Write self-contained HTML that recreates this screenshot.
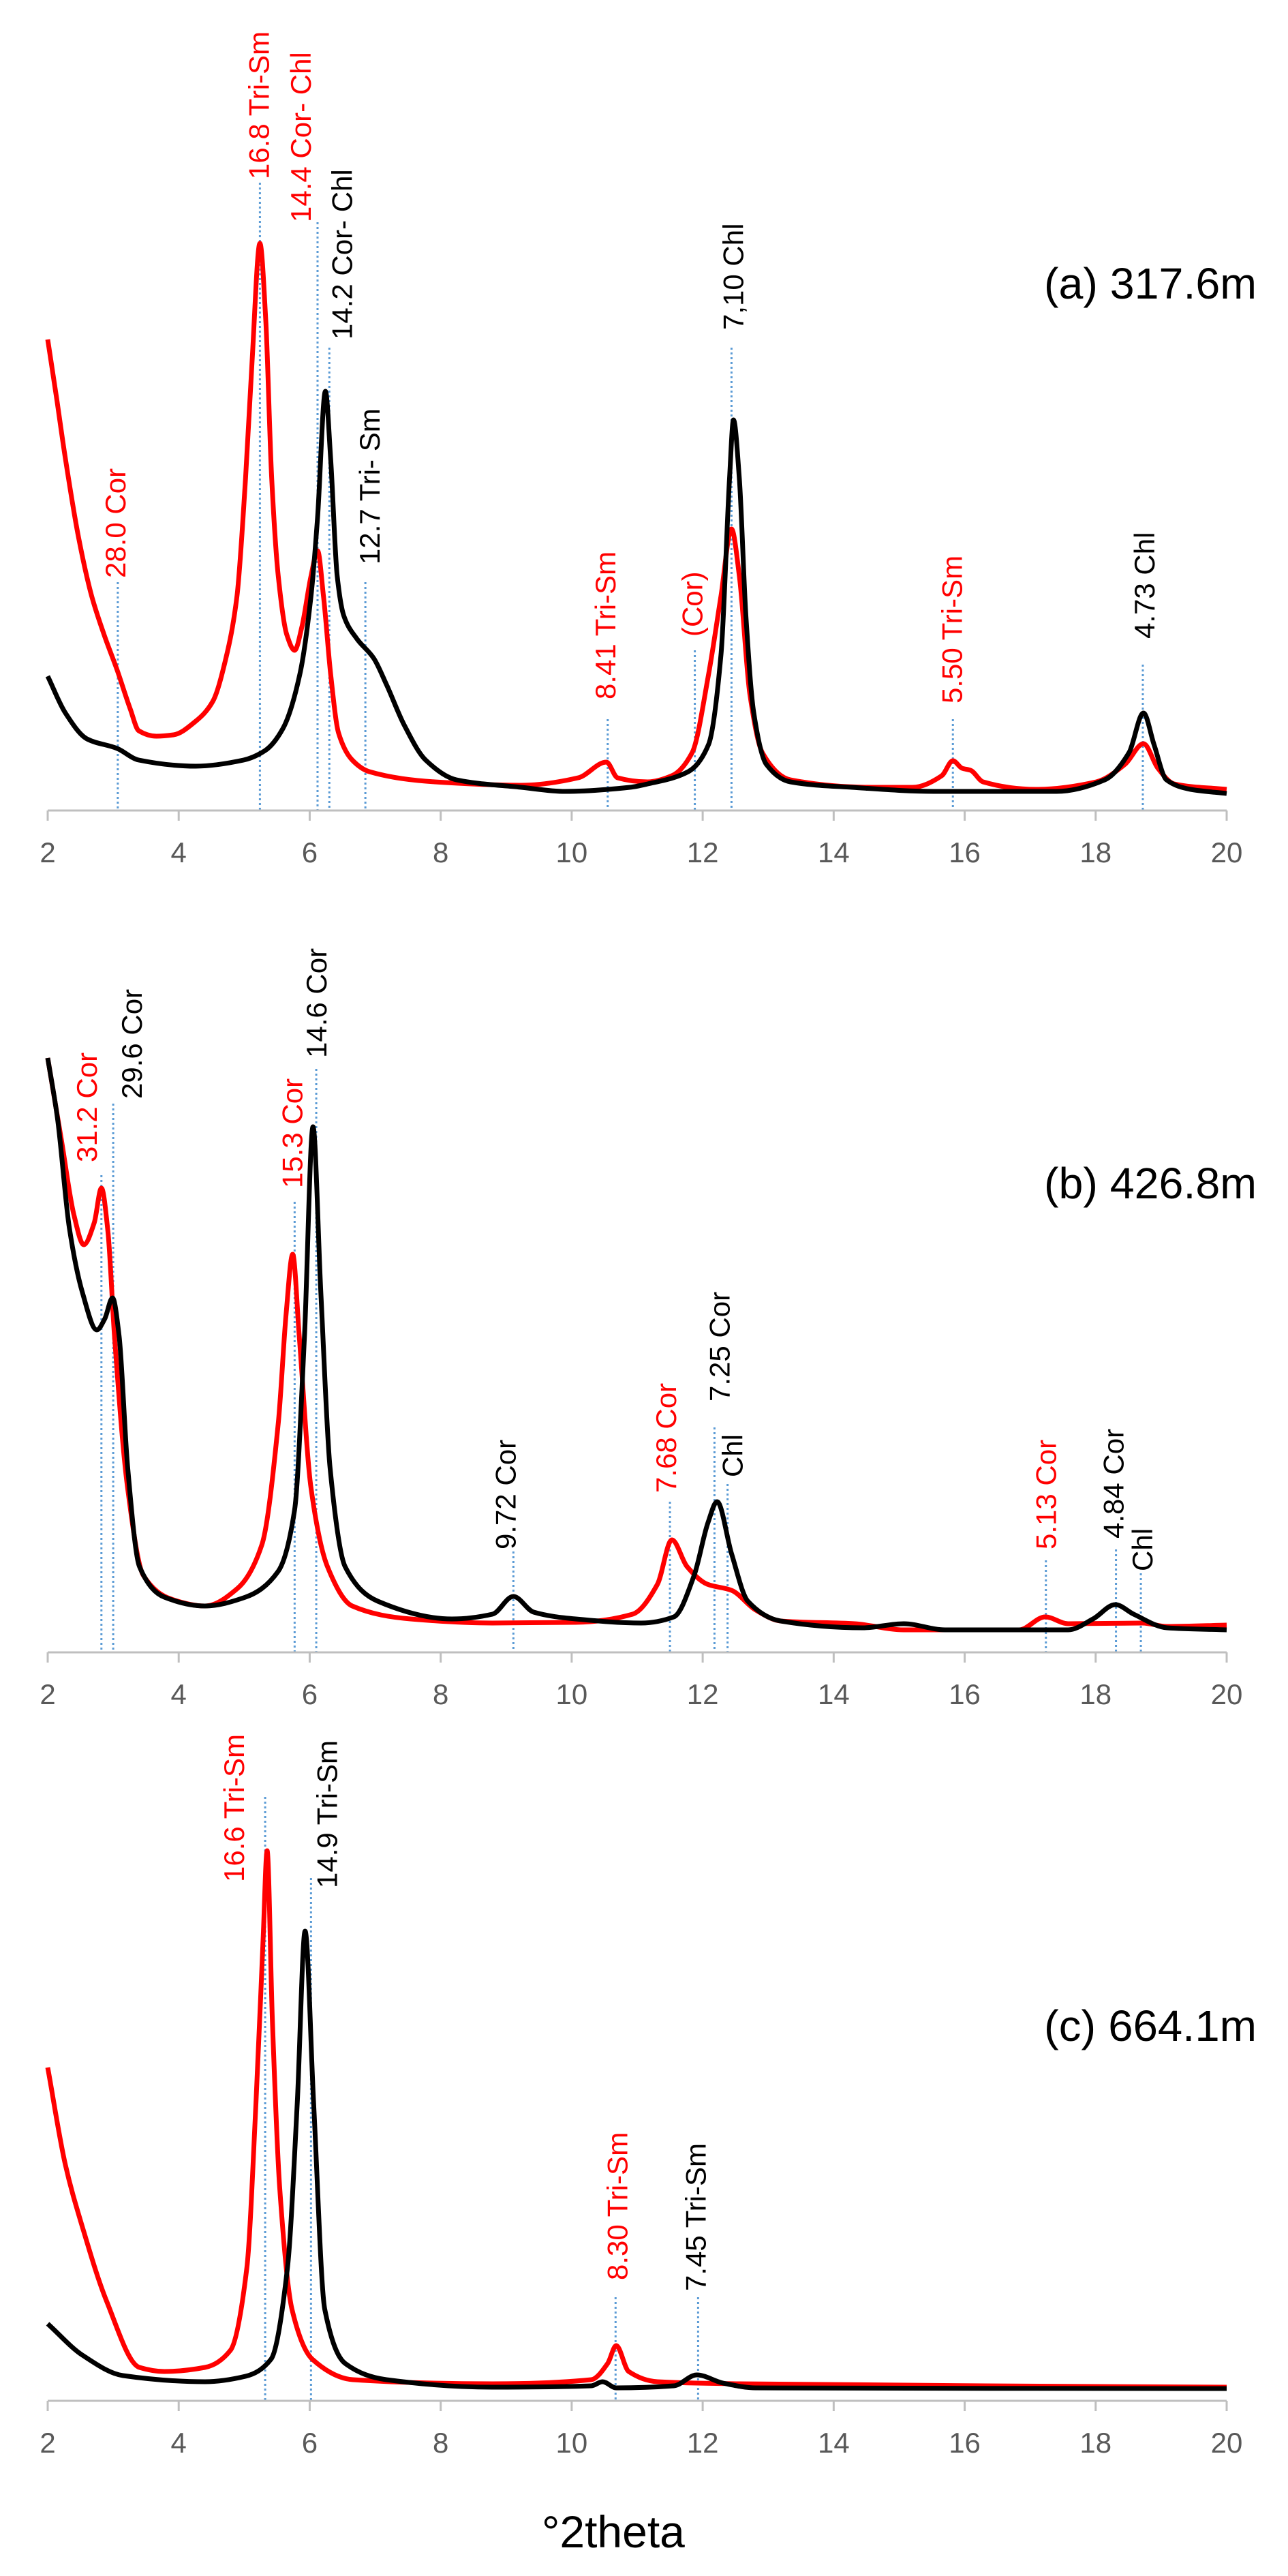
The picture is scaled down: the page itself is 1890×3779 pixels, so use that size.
<!DOCTYPE html>
<html><head><meta charset="utf-8"><title>XRD patterns</title>
<style>
html,body{margin:0;padding:0;background:#fff;}
svg{display:block;}
text{font-family:"Liberation Sans",sans-serif;}
</style></head>
<body>
<svg id="chart" width="1890" height="3779" viewBox="0 0 1890 3779" xmlns="http://www.w3.org/2000/svg">
<rect width="1890" height="3779" fill="#fff"/>
<text x="795" y="3737" font-size="66" fill="#000">°2theta</text>
</svg>
<script>
// ---------- data ----------
const xTicks = [2,4,6,8,10,12,14,16,18,20];
const panelTitles = ["(a) 317.6m","(b) 426.8m","(c) 664.1m"];

// Panel (a) 317.6m
const aRedTheta = [2.0,2.14,2.27,2.47,2.67,2.86,3.06,3.26,3.39,3.66,3.92,4.26,4.52,4.72,4.89,5.02,5.12,5.24,5.33,5.42,5.52,5.65,5.77,5.88,6.02,6.12,6.21,6.32,6.44,6.65,6.91,7.91,9.23,10.1,10.53,10.7,11.16,11.53,11.84,12.09,12.28,12.44,12.56,12.72,12.91,13.34,14.59,15.2,15.65,15.82,15.96,16.09,16.28,17.09,18.01,18.45,18.73,18.95,19.2,20.0];
const aRedInt = [691,602,516,401,315,258,206,149,117,109,111,131,160,223,315,487,659,832,717,487,344,258,235,269,344,381,315,200,114,74,57,42,37,48,71,48,42,51,85,200,315,413,344,171,85,45,34,34,51,73,62,59,42,31,42,68,98,62,39,31];
const aBlackTheta = [2.0,2.27,2.6,3.06,3.39,4.26,4.99,5.32,5.59,5.85,6.02,6.12,6.24,6.32,6.42,6.52,6.72,6.98,7.18,7.44,7.77,8.24,9.23,9.9,10.89,11.16,11.78,12.09,12.28,12.41,12.47,12.56,12.66,12.78,12.97,13.34,14.28,15.53,17.4,18.14,18.51,18.73,18.89,19.08,19.45,20.0];
const aBlackInt = [197,143,105,91,74,65,74,88,120,200,315,430,615,516,344,286,252,223,183,126,74,45,34,28,34,39,57,97,229,487,573,487,286,143,68,42,34,28,28,45,85,143,97,45,31,25];

// Panel (b) 426.8m
const bRedTheta = [2.0,2.21,2.4,2.55,2.71,2.82,2.92,3.02,3.22,3.46,3.89,4.4,4.9,5.27,5.52,5.64,5.74,5.84,6.02,6.27,6.65,7.54,8.79,10.06,10.93,11.31,11.53,11.76,12.07,12.44,12.81,13.19,14.32,15.07,16.83,17.23,17.58,18.71,19.09,20.0];
const bRedInt = [872,751,642,598,630,681,617,464,241,113,78,68,94,158,336,496,584,464,241,126,68,49,43,44,56,100,165,126,100,91,62,46,42,33,33,52,42,43,38,40];
const bBlackTheta = [2.0,2.15,2.33,2.53,2.75,2.87,2.99,3.09,3.22,3.4,3.78,4.4,5.02,5.52,5.77,5.92,6.05,6.17,6.31,6.54,7.04,8.17,8.79,9.11,9.42,10.06,11.06,11.56,11.87,12.08,12.22,12.44,12.69,13.19,14.44,15.07,15.7,17.58,17.96,18.3,18.58,19.09,20.0];
const bBlackInt = [872,783,623,528,473,489,520,464,272,126,81,68,81,119,209,464,771,528,272,126,75,49,56,82,59,49,43,52,113,190,221,145,75,46,36,42,33,33,49,70,56,36,33];

// Panel (c) 664.1m
const cRedTheta = [2.0,2.27,2.53,2.9,3.4,3.78,4.4,4.79,5.04,5.18,5.29,5.35,5.43,5.54,5.73,6.04,6.66,8.79,10.3,10.55,10.68,10.87,11.31,12.56,16.32,20.0];
const cRedInt = [489,346,255,146,49,43,49,74,195,437,680,807,558,316,134,61,31,25,31,55,81,43,28,25,22,20];
const cBlackTheta = [2.0,2.53,3.15,4.4,5.02,5.41,5.66,5.81,5.93,6.06,6.23,6.54,7.17,8.79,10.3,10.47,10.68,11.56,11.91,12.31,12.81,20.0];
const cBlackInt = [113,67,37,28,36,61,195,437,689,437,134,55,31,20,22,28,19,22,38,26,19,18];

// Peak annotations: d-spacing labels
const aLabelText = ["28.0 Cor","16.8  Tri-Sm","14.4 Cor- Chl","14.2 Cor- Chl","12.7 Tri- Sm","8.41 Tri-Sm","(Cor)","7,10 Chl","5.50 Tri-Sm","4.73 Chl"];
const aLabelTheta = [3.07,5.24,6.12,6.3,6.85,10.55,11.88,12.44,15.82,18.72];
const aLabelRed = [1,1,1,0,0,1,1,0,1,0];
const bLabelText = ["31.2 Cor","29.6 Cor","15.3 Cor","14.6 Cor","9.72 Cor","7.68 Cor","7.25 Cor","Chl","5.13 Cor","4.84 Cor","Chl"];
const bLabelTheta = [2.82,3.0,5.77,6.1,9.11,11.5,12.18,12.38,17.24,18.31,18.69];
const bLabelRed = [1,0,1,0,0,1,0,0,1,0,0];
const cLabelText = ["16.6 Tri-Sm","14.9 Tri-Sm","8.30  Tri-Sm","7.45 Tri-Sm"];
const cLabelTheta = [5.32,6.02,10.67,11.93];
const cLabelRed = [1,0,1,0];

// ---------- layout (not data) ----------
const NS = "http://www.w3.org/2000/svg";
const svg = document.getElementById("chart");
const X0 = 70, X1 = 1800, TMIN = 2, TMAX = 20;
function xScale(t){ return X0 + (t - TMIN) * (X1 - X0) / (TMAX - TMIN); }

// monotone cubic (Fritsch-Carlson) path through screen points
function monotonePath(xs, ys){
  const n = xs.length;
  if (n < 2) return "";
  const dx = [], m = [], t = new Array(n);
  for (let i=0;i<n-1;i++){ dx.push(xs[i+1]-xs[i]); m.push((ys[i+1]-ys[i])/(xs[i+1]-xs[i])); }
  t[0]=m[0]; t[n-1]=m[n-2];
  for (let i=1;i<n-1;i++){
    if (m[i-1]*m[i] <= 0) t[i]=0;
    else { const w1=2*dx[i]+dx[i-1], w2=dx[i]+2*dx[i-1]; t[i]=(w1+w2)/(w1/m[i-1]+w2/m[i]); }
  }
  let d = "M"+xs[0].toFixed(1)+","+ys[0].toFixed(1);
  for (let i=0;i<n-1;i++){
    const h = dx[i]/3;
    d += "C"+(xs[i]+h).toFixed(1)+","+(ys[i]+t[i]*h).toFixed(1)+" "+(xs[i+1]-h).toFixed(1)+","+(ys[i+1]-t[i+1]*h).toFixed(1)+" "+xs[i+1].toFixed(1)+","+ys[i+1].toFixed(1);
  }
  return d;
}

const panels = [
  {key:"a", axisY:1189, title:panelTitles[0], titleY:438,
   red:[aRedTheta,aRedInt], black:[aBlackTheta,aBlackInt],
   labels:[aLabelText,aLabelTheta,aLabelRed],
   lineTops:[854,268,326,510,854,1055,954,510,1055,975],
   textBottoms:[848,263,326,498,828,1026,934,484,1032,937],
   textDx:[-4,-2,-25,18,6,-4,-4,2,-2,2]},
  {key:"b", axisY:2424, title:panelTitles[1], titleY:1758,
   red:[bRedTheta,bRedInt], black:[bBlackTheta,bBlackInt],
   labels:[bLabelText,bLabelTheta,bLabelRed],
   lineTops:[1724,1619,1763,1568,2276,2203,2094,2177,2289,2273,2308],
   textBottoms:[1705,1612,1743,1552,2273,2190,2056,2167,2273,2257,2305],
   textDx:[-22,27,-4,0,-12,-6,7,7,0,-4,2]},
  {key:"c", axisY:3522, title:panelTitles[2], titleY:2994,
   red:[cRedTheta,cRedInt], black:[cBlackTheta,cBlackInt],
   labels:[cLabelText,cLabelTheta,cLabelRed],
   lineTops:[2636,2755,3370,3370],
   textBottoms:[2761,2770,3345,3361],
   textDx:[-46,23,2,-4]}
];

panels.forEach(function(p){
  const g = document.createElementNS(NS,"g");
  
  
  svg.appendChild(g);
  function yScale(v){ return p.axisY - v; }

  p.labels[1].forEach(function(t,i){
    const ln = document.createElementNS(NS,"line");
    
    
    const x = xScale(t);
    ln.setAttribute("x1",x); ln.setAttribute("x2",x);
    ln.setAttribute("y1",p.lineTops[i]); ln.setAttribute("y2",p.axisY);
    ln.setAttribute("stroke","#5b9bd5"); ln.setAttribute("stroke-width","3");
    ln.setAttribute("stroke-dasharray","3 4");
    g.appendChild(ln);
  });

  const ax = document.createElementNS(NS,"line");
  
  
  ax.setAttribute("x1",xScale(TMIN)); ax.setAttribute("x2",xScale(TMAX));
  ax.setAttribute("y1",p.axisY); ax.setAttribute("y2",p.axisY);
  ax.setAttribute("stroke","#bfbfbf"); ax.setAttribute("stroke-width","3");
  g.appendChild(ax);
  xTicks.forEach(function(t){
    const tk = document.createElementNS(NS,"line");
    
    
    tk.setAttribute("x1",xScale(t)); tk.setAttribute("x2",xScale(t));
    tk.setAttribute("y1",p.axisY); tk.setAttribute("y2",p.axisY+15);
    tk.setAttribute("stroke","#bfbfbf"); tk.setAttribute("stroke-width","3");
    g.appendChild(tk);
    const tl = document.createElementNS(NS,"text");
    
    
    tl.setAttribute("x",xScale(t)); tl.setAttribute("y",p.axisY+76);
    tl.setAttribute("text-anchor","middle"); tl.setAttribute("font-size","42");
    tl.setAttribute("fill","#595959");
    tl.textContent = String(t);
    g.appendChild(tl);
  });

  [["red",p.red,"#ff0000"],["black",p.black,"#000000"]].forEach(function(s){
    const th = s[1][0], iv = s[1][1];
    const xs = th.map(xScale), ys = iv.map(yScale);
    const path = document.createElementNS(NS,"path");
    
    
    path.setAttribute("d",monotonePath(xs,ys)); path.setAttribute("fill","none");
    path.setAttribute("stroke",s[2]); path.setAttribute("stroke-width","7");
    path.setAttribute("stroke-linejoin","round");
    g.appendChild(path);
  });

  p.labels[0].forEach(function(txt,i){
    const x = xScale(p.labels[1][i]) + p.textDx[i] + 15;
    const y = p.textBottoms[i];
    const tx = document.createElementNS(NS,"text");
    
    
    tx.setAttribute("x",x); tx.setAttribute("y",y);
    tx.setAttribute("transform","rotate(-90 "+x+" "+y+")");
    tx.setAttribute("font-size","42");
    tx.setAttribute("fill", p.labels[2][i] ? "#ff0000" : "#000000");
    tx.textContent = txt;
    g.appendChild(tx);
  });

  const tt = document.createElementNS(NS,"text");
  
  
  tt.setAttribute("x","1532"); tt.setAttribute("y",p.titleY);
  tt.setAttribute("font-size","64"); tt.setAttribute("fill","#000");
  tt.setAttribute("textLength","312"); tt.setAttribute("lengthAdjust","spacingAndGlyphs");
  tt.textContent = p.title;
  g.appendChild(tt);
});
</script>
</body></html>
